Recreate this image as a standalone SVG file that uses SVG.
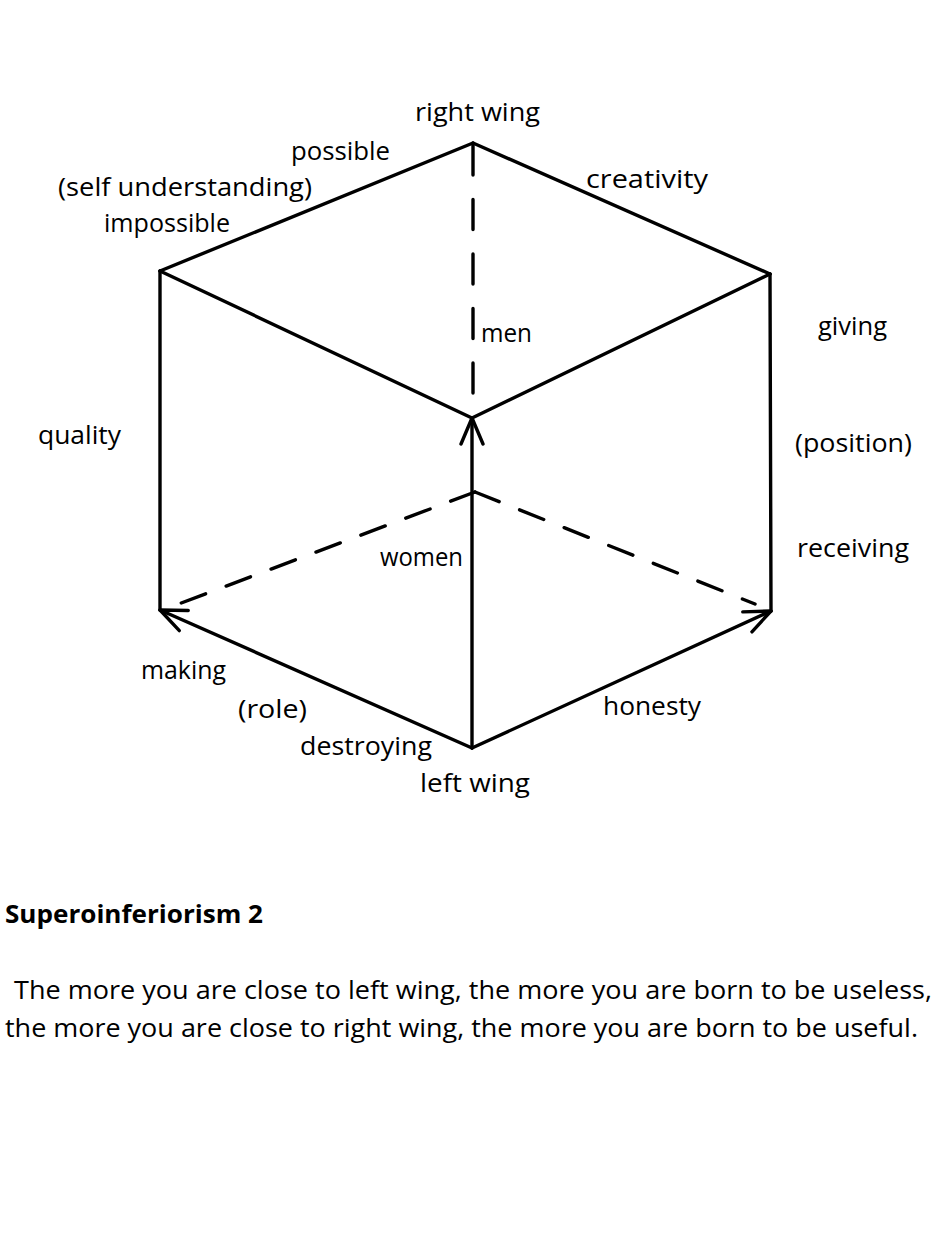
<svg xmlns="http://www.w3.org/2000/svg" width="940" height="1253" viewBox="0 0 940 1253">
<style>
.e{stroke:#000;stroke-width:3.4;fill:none;stroke-linecap:round;stroke-linejoin:round}
.d{stroke-dasharray:26 22}
.v{stroke-dasharray:30 24.5}
.t{font-family:"Open Sans","DejaVu Sans",sans-serif;font-size:25px;fill:#000}
.b{font-weight:bold}
</style>
<defs>
<marker id="ah" viewBox="-2 -2 30 28" refX="26" refY="12" markerWidth="30" markerHeight="28" markerUnits="userSpaceOnUse" orient="auto">
<path d="M0,1 L26,12 L0,23" fill="none" stroke="#000" stroke-width="3.4" stroke-linecap="round" stroke-linejoin="round"/>
</marker>
</defs>
<rect width="940" height="1253" fill="#fff"/>
<g id="connectors">
<line class="e" x1="473" y1="143" x2="160" y2="271"/>
<line class="e" x1="473" y1="143" x2="770" y2="274"/>
<line class="e" x1="160" y1="271" x2="472" y2="418"/>
<line class="e" x1="770" y1="274" x2="472" y2="418"/>
<line class="e" x1="160" y1="271" x2="160" y2="610"/>
<line class="e" x1="770" y1="274" x2="771" y2="611"/>
<line class="e" x1="472" y1="748" x2="472" y2="418" marker-end="url(#ah)"/>
<line class="e" x1="472" y1="748" x2="160" y2="610" marker-end="url(#ah)"/>
<line class="e" x1="472" y1="748" x2="771" y2="611" marker-end="url(#ah)"/>
<line class="e v" x1="473" y1="145" x2="473" y2="394"/>
<line class="e d" x1="475" y1="492" x2="176" y2="605"/>
<line class="e d" x1="475" y1="492" x2="755" y2="604"/>
</g>
<g id="label-right-wing"><text class="t" x="415" y="121" textLength="125" lengthAdjust="spacingAndGlyphs">right wing</text></g>
<g id="label-possible"><text class="t" x="291" y="160" textLength="99" lengthAdjust="spacingAndGlyphs">possible</text></g>
<g id="label-self-understanding"><text class="t" x="58" y="196" textLength="254" lengthAdjust="spacingAndGlyphs">(self understanding)</text></g>
<g id="label-impossible"><text class="t" x="104" y="232" textLength="126" lengthAdjust="spacingAndGlyphs">impossible</text></g>
<g id="label-creativity"><text class="t" x="586" y="188" textLength="122" lengthAdjust="spacingAndGlyphs">creativity</text></g>
<g id="label-men"><text class="t" x="481" y="342" textLength="51" lengthAdjust="spacingAndGlyphs">men</text></g>
<g id="label-giving"><text class="t" x="818" y="335" textLength="69" lengthAdjust="spacingAndGlyphs">giving</text></g>
<g id="label-quality"><text class="t" x="38" y="444" textLength="83" lengthAdjust="spacingAndGlyphs">quality</text></g>
<g id="label-position"><text class="t" x="795" y="452" textLength="117" lengthAdjust="spacingAndGlyphs">(position)</text></g>
<g id="label-receiving"><text class="t" x="797" y="557" textLength="112" lengthAdjust="spacingAndGlyphs">receiving</text></g>
<g id="label-women"><text class="t" x="380" y="566" textLength="83" lengthAdjust="spacingAndGlyphs">women</text></g>
<g id="label-making"><text class="t" x="141" y="679" textLength="85" lengthAdjust="spacingAndGlyphs">making</text></g>
<g id="label-role"><text class="t" x="238" y="718" textLength="69" lengthAdjust="spacingAndGlyphs">(role)</text></g>
<g id="label-destroying"><text class="t" x="300" y="755" textLength="132" lengthAdjust="spacingAndGlyphs">destroying</text></g>
<g id="label-left-wing"><text class="t" x="420" y="792" textLength="110" lengthAdjust="spacingAndGlyphs">left wing</text></g>
<g id="label-honesty"><text class="t" x="603" y="715" textLength="98" lengthAdjust="spacingAndGlyphs">honesty</text></g>
<g id="caption">
<text class="t b" x="5" y="923" textLength="258" lengthAdjust="spacingAndGlyphs">Superoinferiorism 2</text>
<text class="t" x="14" y="999" textLength="918" lengthAdjust="spacingAndGlyphs">The more you are close to left wing, the more you are born to be useless,</text>
<text class="t" x="5" y="1037" textLength="913" lengthAdjust="spacingAndGlyphs">the more you are close to right wing, the more you are born to be useful.</text>
</g>
</svg>
